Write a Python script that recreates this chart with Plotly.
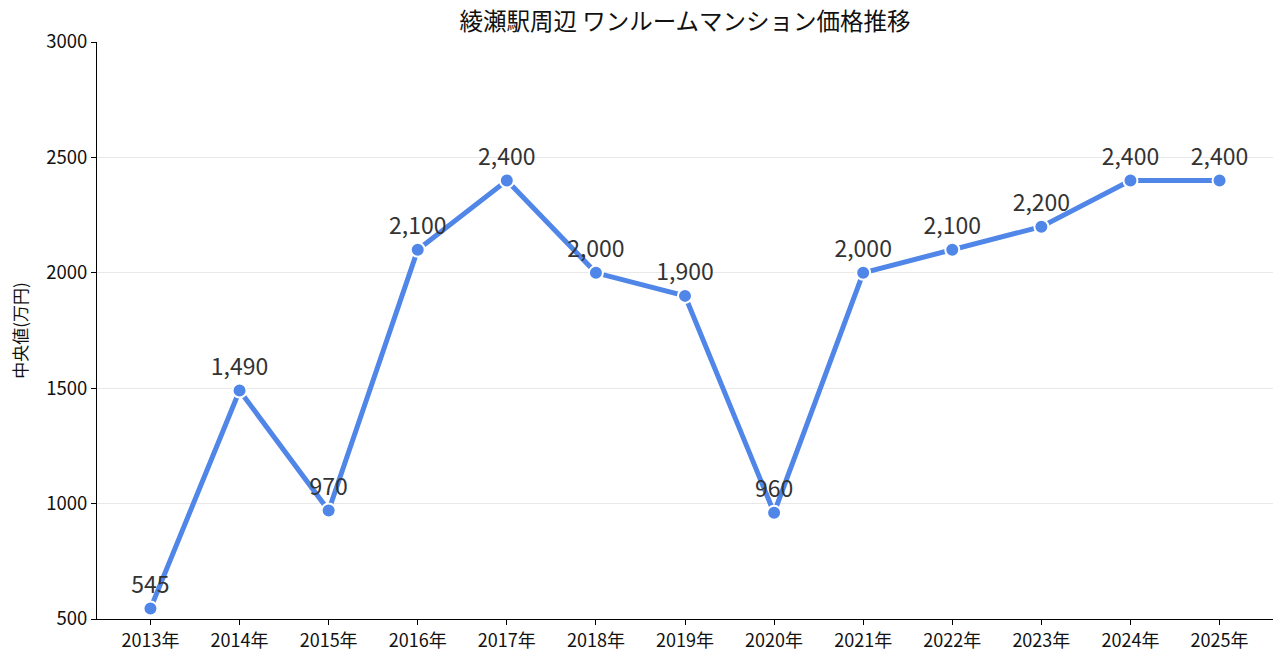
import plotly.graph_objects as go

years = ["2013年", "2014年", "2015年", "2016年", "2017年", "2018年", "2019年",
         "2020年", "2021年", "2022年", "2023年", "2024年", "2025年"]
median_price = [545, 1490, 970, 2100, 2400, 2000, 1900, 960, 2000, 2100, 2200, 2400, 2400]
labels = [f"{v:,}" for v in median_price]
y_ticks = [500, 1000, 1500, 2000, 2500, 3000]

font_family = "Noto Sans CJK JP, Noto Sans, sans-serif"

fig = go.Figure(go.Scatter(
    x=years, y=median_price,
    mode="lines+markers+text",
    text=labels, textposition="top center",
    textfont=dict(size=23, color="#333333", family=font_family),
    line=dict(color="#4F86E8", width=5),
    marker=dict(size=14, color="#4F86E8", line=dict(color="white", width=2)),
    cliponaxis=False,
))

fig.update_layout(
    width=1287, height=663,
    margin=dict(l=97, r=14, t=42, b=44),
    paper_bgcolor="white", plot_bgcolor="white",
    font=dict(family=font_family, color="#111111"),
    title=dict(text="綾瀬駅周辺 ワンルームマンション価格推移", x=0.5, xref="paper", xanchor="center",
               y=0.967, yanchor="middle", font=dict(size=23.5, color="#111111")),
    showlegend=False,
)
fig.update_xaxes(
    type="category", range=[-0.6, 12.6],
    showline=True, linecolor="black", linewidth=1,
    ticks="outside", ticklen=5, tickcolor="black",
    showgrid=False, tickfont=dict(size=18, color="#111111"),
)
fig.update_yaxes(
    range=[500, 3000], tickvals=y_ticks,
    showline=True, linecolor="black", linewidth=1,
    ticks="outside", ticklen=5, tickcolor="black",
    showgrid=True, gridcolor="#E8E8E8", zeroline=False,
    tickfont=dict(size=18.5, color="#111111"),
    title=dict(text="中央値(万円)", font=dict(size=17, color="#111111"), standoff=14),
)

fig.write_html("out.html")
